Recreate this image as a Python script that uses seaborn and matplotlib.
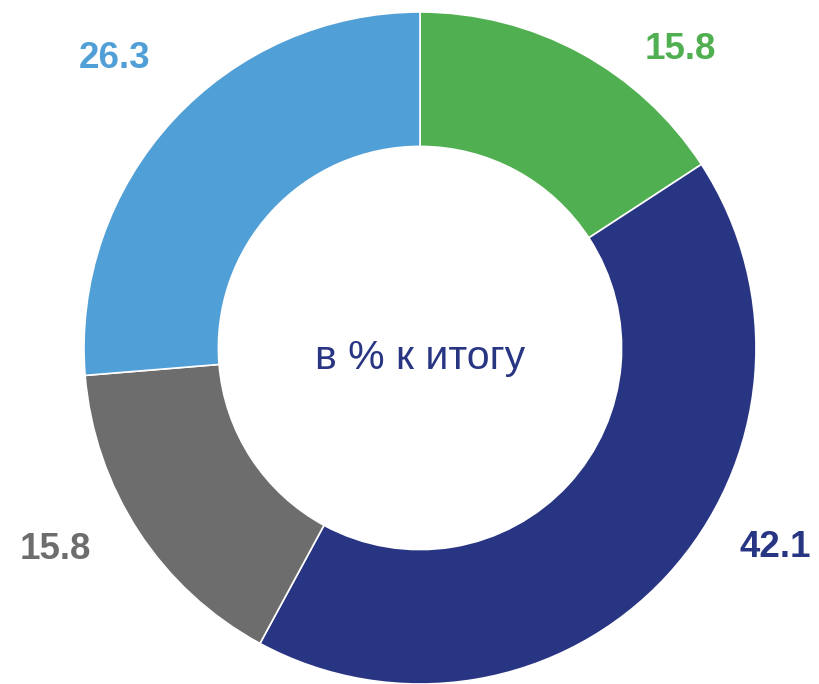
import matplotlib
matplotlib.use("Agg")
import matplotlib.pyplot as plt
import seaborn as sns

sns.set_theme(style="white")
plt.rcParams['font.family'] = ['Liberation Sans', 'DejaVu Sans']

categories = ["A", "B", "C", "D"]
values = [15.8, 42.1, 15.8, 26.3]
labels = ["15.8", "42.1", "15.8", "26.3"]
colors = ["#50AF50", "#283583", "#6D6D6D", "#519FD7"]
center_text = "в % к итогу"

# label placement (data units, radius = 1)
label_pos = [(0.774, 0.887), (1.057, -0.595), (-1.086, -0.601), (-0.908, 0.863)]

fig = plt.figure(figsize=(8.2, 6.84), dpi=100)
ax = fig.add_axes([0, 0, 1, 1])
ax.pie(values, colors=colors, startangle=90, counterclock=False, radius=1.0,
       wedgeprops=dict(width=0.4, edgecolor="white", linewidth=1.2))
for lab, (x, y), c in zip(labels, label_pos, colors):
    ax.text(x, y, lab, color=c, fontsize=26.5, fontweight="bold", ha="center", va="center")
ax.text(0, -0.03, center_text, color="#283583", fontsize=29.5, ha="center", va="center")

ax.set_xlim(-420 / 336, 400 / 336)
ax.set_ylim(-336 / 336, 348 / 336)
ax.set_aspect("equal")
ax.axis("off")
fig.savefig("out.png", dpi=100)
